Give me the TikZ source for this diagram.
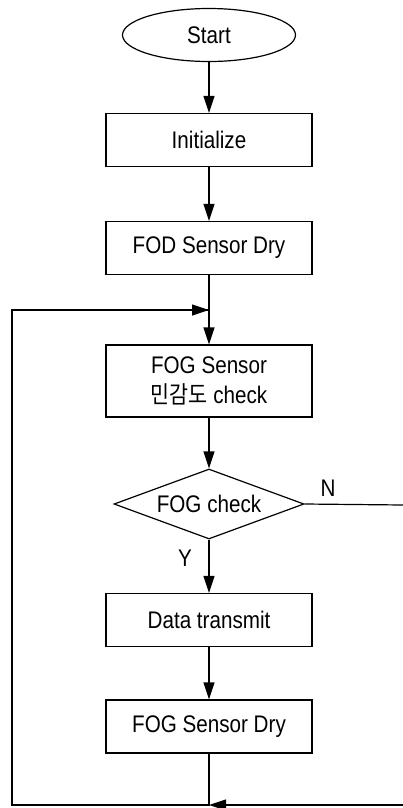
\documentclass[tikz,border=0pt]{standalone}
\usepackage{fontspec}
\setmainfont[FakeStretch=0.86]{Liberation Sans}
\newfontfamily\kor[FakeStretch=0.86]{Noto Sans CJK KR}
\usetikzlibrary{shapes.geometric,arrows.meta}
\begin{document}
\begin{tikzpicture}[x=1pt,y=-1pt,
  line width=1.2pt,
  every node/.style={font=\fontsize{24}{30}\selectfont},
  box/.style={draw,rectangle,minimum width=206pt,minimum height=53pt,inner sep=0pt,align=center},
  term/.style={draw,ellipse,minimum width=173pt,minimum height=53pt,inner sep=0pt},
  decide/.style={draw,diamond,aspect=2.7,minimum width=190pt,minimum height=70pt,inner sep=0pt},
  arr/.style={-{Triangle[length=17pt,width=11pt]}},
  lbl/.style={inner sep=0pt}]
\useasboundingbox (0,0) rectangle (403,808);
\node[term] (start) at (209,35) {Start};
\node[box] (init) at (209,140) {Initialize};
\node[box] (fod) at (209,248) {FOD Sensor Dry};
\node[box,minimum height=72pt] (fogs) at (209,381) {FOG Sensor\\{\kor 민감도} check};
\node[decide] (check) at (209,504) {FOG check};
\node[box] (data) at (209,620) {Data transmit};
\node[box] (dry) at (209,726.5) {FOG Sensor Dry};
\node[lbl] (nlab) at (328,488) {N};
\node[lbl] (ylab) at (185,558) {Y};
\coordinate (merge) at (209,310);
\coordinate (bot) at (209,805);
\coordinate (botl) at (12,805);
\coordinate (topl) at (12,310);
\coordinate (nr) at (403,505);
\coordinate (br) at (403,805);
\draw[arr] (start) -- (init);
\draw[arr] (init) -- (fod);
\draw[arr] (fod) -- (fogs);
\draw[arr] (fogs) -- (check);
\draw[arr] (check) -- (data);
\draw[arr] (data) -- (dry);
\draw (dry.south) -- (bot) -- (botl) -- (topl) -- (merge);
\draw[arr] (topl) -- (merge);
\draw (check.east) -- (nr);
\draw[arr] (br) -- (bot);
\end{tikzpicture}
\end{document}
